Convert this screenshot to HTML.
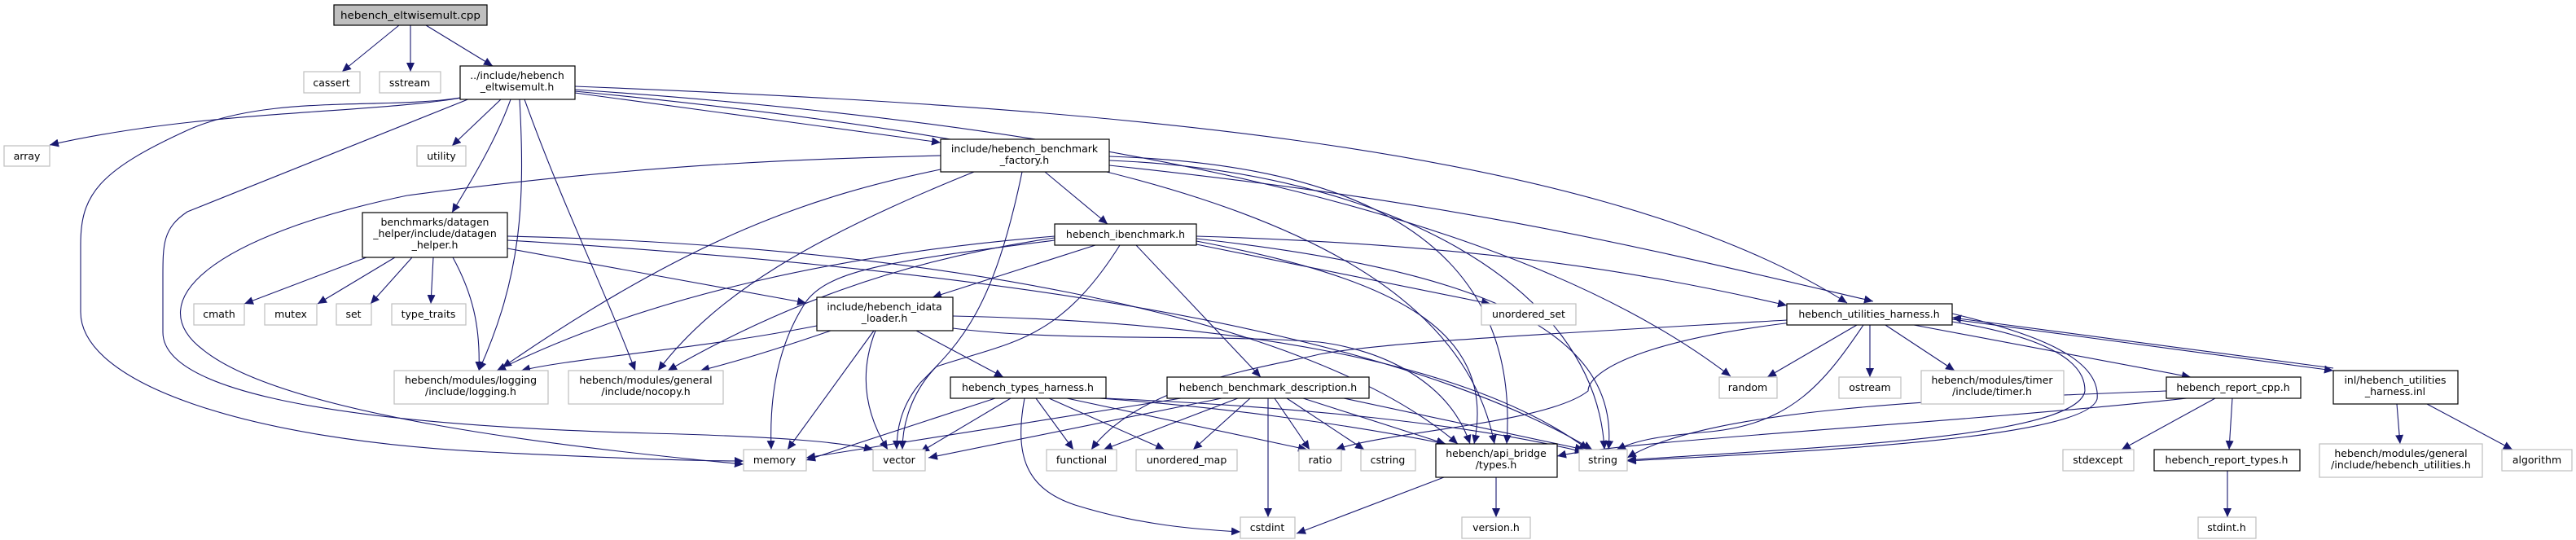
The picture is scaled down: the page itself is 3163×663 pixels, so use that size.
<!DOCTYPE html>
<html><head><meta charset="utf-8"><style>
html,body{margin:0;padding:0;background:#fff;}
svg{display:block;}
text{font-family:"DejaVu Sans","Liberation Sans",sans-serif;font-size:12.5px;fill:#000;text-anchor:middle;}
.e{fill:none;stroke:#191970;stroke-width:1.1;marker-end:url(#a);}
.p{fill:#fff;stroke:#000;stroke-width:1.2;}
.s{fill:#fff;stroke:#bfbfbf;stroke-width:1.2;}
</style></head><body>
<svg width="3163" height="663" viewBox="0 0 3163 663" xmlns="http://www.w3.org/2000/svg">
<defs><marker id="a" markerUnits="userSpaceOnUse" markerWidth="12" markerHeight="10" refX="11" refY="5" orient="auto"><path d="M0,0 L11,5 L0,10 z" fill="#191970"/></marker></defs>

<!-- edges -->
<path class="e" d="M490,31 L420,88"/>
<path class="e" d="M504,31 L504,88"/>
<path class="e" d="M523,31 L605,81"/>
<path class="e" d="M567,120 C450,140 250,135 61,178"/>
<path class="e" d="M615,122 L555,179"/>
<path class="e" d="M627,122 C610,170 580,220 555,261"/>
<path class="e" d="M638,122 C645,250 640,340 588,455"/>
<path class="e" d="M644,122 C690,250 740,350 780,455"/>
<path class="e" d="M565,120 C470,135 330,115 230,160 C120,210 99,240 99,300 L99,383 C99,470 300,540 600,555 C800,565 880,566 913,566"/>
<path class="e" d="M577,121 C480,160 357,210 230,260 C200,280 200,300 200,340 L200,408 C200,470 357,520 800,532 C950,536 1030,542 1072,552"/>
<path class="e" d="M706,114 L1155,175"/>
<path class="e" d="M706,106 C1300,130 1950,170 2268,372"/>
<path class="e" d="M706,110 C1300,150 1850,250 2125,462"/>
<path class="e" d="M706,112 C1300,170 1780,260 1835,545"/>
<!-- factory -->
<path class="e" d="M1283,211 L1360,275"/>
<path class="e" d="M1155,191 C1000,195 800,200 500,240 C260,290 170,370 250,430 C350,510 700,550 913,570"/>
<path class="e" d="M1155,208 C1000,240 850,290 617,451"/>
<path class="e" d="M1196,211 C1000,290 880,360 808,455"/>
<path class="e" d="M1255,211 C1220,380 1180,420 1130,470 C1105,500 1101,530 1101,552"/>
<path class="e" d="M1362,192 C1600,200 1870,260 1850,545"/>
<path class="e" d="M1362,197 C1700,210 1960,350 1970,552"/>
<path class="e" d="M1362,203 C1800,250 2000,300 2300,370"/>
<!-- ibenchmark -->
<path class="e" d="M1345,301 L1145,365"/>
<path class="e" d="M1395,301 L1548,463"/>
<path class="e" d="M1375,301 C1300,420 1240,420 1150,450 C1120,480 1108,520 1108,552"/>
<path class="e" d="M1295,295 C1100,320 1020,330 990,370 C950,430 945,500 947,552"/>
<path class="e" d="M1295,290 C1050,310 800,360 610,455"/>
<path class="e" d="M1295,292 C1100,320 950,380 820,455"/>
<path class="e" d="M1469,300 L1830,373"/>
<path class="e" d="M1469,290 C1800,300 2000,330 2194,375"/>
<path class="e" d="M1469,296 C1700,340 1840,400 1810,545"/>
<path class="e" d="M1469,293 C1800,330 1990,400 1975,552"/>
<!-- datagen -->
<path class="e" d="M450,316 L300,373"/>
<path class="e" d="M485,316 L390,373"/>
<path class="e" d="M506,316 L455,373"/>
<path class="e" d="M532,316 L529,373"/>
<path class="e" d="M556,316 C580,360 590,400 588,455"/>
<path class="e" d="M623,305 L990,372"/>
<path class="e" d="M623,290 C1100,300 1600,380 1790,545"/>
<path class="e" d="M623,295 C1200,330 1700,400 1955,552"/>
<!-- idata loader -->
<path class="e" d="M1073,406 L967,552"/>
<path class="e" d="M1075,406 C1050,470 1070,520 1090,552"/>
<path class="e" d="M1125,406 L1232,463"/>
<path class="e" d="M1003,400 C850,430 700,440 640,455"/>
<path class="e" d="M1020,406 C950,430 900,445 860,455"/>
<path class="e" d="M1170,403 C1300,420 1500,410 1620,420 C1700,430 1780,470 1805,545"/>
<path class="e" d="M1170,388 C1500,395 1800,440 1950,552"/>
<!-- types harness -->
<path class="e" d="M1222,489 L990,565"/>
<path class="e" d="M1241,489 L1130,555"/>
<path class="e" d="M1272,489 L1318,552"/>
<path class="e" d="M1288,489 L1430,552"/>
<path class="e" d="M1258,489 C1245,560 1260,600 1320,620 C1400,645 1470,650 1523,653"/>
<path class="e" d="M1310,489 L1605,552"/>
<path class="e" d="M1350,489 C1500,500 1650,520 1775,545"/>
<path class="e" d="M1358,489 C1600,500 1800,520 1945,555"/>
<!-- benchmark description -->
<path class="e" d="M1450,489 L990,562"/>
<path class="e" d="M1500,489 L1140,562"/>
<path class="e" d="M1520,489 L1355,552"/>
<path class="e" d="M1535,489 L1465,552"/>
<path class="e" d="M1557,489 L1557,635"/>
<path class="e" d="M1565,489 L1608,552"/>
<path class="e" d="M1580,489 L1675,552"/>
<path class="e" d="M1600,489 L1775,545"/>
<path class="e" d="M1650,489 L1945,552"/>
<!-- api types -->
<path class="e" d="M1773,586 L1592,655"/>
<path class="e" d="M1837,586 L1837,635"/>
<!-- utilities harness -->
<path class="e" d="M2280,399 L2170,463"/>
<path class="e" d="M2296,399 L2296,463"/>
<path class="e" d="M2315,399 L2400,455"/>
<path class="e" d="M2288,399 C2240,470 2200,520 2100,530 C2040,535 2010,540 1985,552"/>
<path class="e" d="M2194,393 C1900,410 1700,420 1620,435 C1560,450 1400,470 1340,552"/>
<path class="e" d="M2350,399 L2690,463"/>
<path class="e" d="M2397,392 L2865,455"/>
<path class="e" d="M2200,396 C2000,420 1950,460 1950,480 C1900,520 1700,530 1640,552"/>
<!-- inl -->
<path class="e" d="M2865,452 L2397,390"/>
<path class="e" d="M2943,496 L2947,545"/>
<path class="e" d="M2980,496 L3085,552"/>
<path class="e" d="M2397,395 C2550,420 2560,460 2560,480 C2550,540 2200,550 1998,565"/>
<path class="e" d="M2397,385 C2500,410 2580,440 2575,490 C2560,540 2200,555 1998,566"/>
<!-- report cpp -->
<path class="e" d="M2720,489 L2605,552"/>
<path class="e" d="M2741,489 L2737,552"/>
<path class="e" d="M2660,480 C2400,490 2100,500 1998,562"/>
<path class="e" d="M2685,489 C2400,520 2000,540 1912,560"/>
<path class="e" d="M2735,578 L2735,635"/>

<!-- nodes -->
<rect x="410" y="6" width="188" height="25" fill="#bfbfbf" stroke="#000" stroke-width="1.2"/>
<text x="504" y="23" textLength="172" lengthAdjust="spacingAndGlyphs">hebench_eltwisemult.cpp</text>

<rect class="s" x="373" y="88" width="69" height="26"/><text x="407" y="106">cassert</text>
<rect class="s" x="466" y="88" width="75" height="26"/><text x="503" y="106">sstream</text>

<rect class="p" x="565" y="81" width="141" height="41"/>
<text x="635" y="97">../include/hebench</text><text x="635" y="111">_eltwisemult.h</text>

<rect class="s" x="5" y="179" width="56" height="25"/><text x="33" y="196">array</text>
<rect class="s" x="512" y="179" width="60" height="25"/><text x="542" y="196">utility</text>

<rect class="p" x="445" y="261" width="178" height="55"/>
<text x="534" y="277">benchmarks/datagen</text><text x="534" y="291">_helper/include/datagen</text><text x="534" y="305">_helper.h</text>

<rect class="s" x="238" y="373" width="62" height="26"/><text x="269" y="390">cmath</text>
<rect class="s" x="325" y="373" width="64" height="26"/><text x="357" y="390">mutex</text>
<rect class="s" x="413" y="373" width="43" height="26"/><text x="434" y="390">set</text>
<rect class="s" x="481" y="373" width="91" height="26"/><text x="526" y="390">type_traits</text>

<rect class="s" x="484" y="455" width="189" height="41"/>
<text x="578" y="471">hebench/modules/logging</text><text x="578" y="485">/include/logging.h</text>
<rect class="s" x="698" y="455" width="190" height="41"/>
<text x="793" y="471">hebench/modules/general</text><text x="793" y="485">/include/nocopy.h</text>

<rect class="p" x="1155" y="171" width="207" height="40"/>
<text x="1258" y="187">include/hebench_benchmark</text><text x="1258" y="201">_factory.h</text>

<rect class="p" x="1295" y="275" width="174" height="26"/><text x="1382" y="292">hebench_ibenchmark.h</text>

<rect class="p" x="1003" y="365" width="167" height="41"/>
<text x="1086" y="381">include/hebench_idata</text><text x="1086" y="395">_loader.h</text>

<rect class="p" x="1167" y="463" width="191" height="26"/><text x="1262" y="480">hebench_types_harness.h</text>
<rect class="p" x="1433" y="463" width="248" height="26"/><text x="1557" y="480">hebench_benchmark_description.h</text>

<rect class="s" x="913" y="552" width="77" height="26"/><text x="951" y="569">memory</text>
<rect class="s" x="1072" y="552" width="64" height="26"/><text x="1104" y="569">vector</text>
<rect class="s" x="1285" y="552" width="86" height="26"/><text x="1328" y="569">functional</text>
<rect class="s" x="1395" y="552" width="124" height="26"/><text x="1457" y="569">unordered_map</text>
<rect class="s" x="1595" y="552" width="52" height="26"/><text x="1621" y="569">ratio</text>
<rect class="s" x="1671" y="552" width="67" height="26"/><text x="1704" y="569">cstring</text>
<rect class="s" x="1523" y="635" width="67" height="26"/><text x="1556" y="652">cstdint</text>

<rect class="p" x="1763" y="545" width="149" height="41"/>
<text x="1837" y="561">hebench/api_bridge</text><text x="1837" y="575">/types.h</text>
<rect class="s" x="1939" y="552" width="59" height="26"/><text x="1968" y="569">string</text>
<rect class="s" x="1795" y="635" width="84" height="26"/><text x="1837" y="652">version.h</text>

<rect class="s" x="1819" y="373" width="116" height="26"/><text x="1877" y="390">unordered_set</text>
<rect class="p" x="2194" y="373" width="203" height="26"/><text x="2295" y="390">hebench_utilities_harness.h</text>

<rect class="s" x="2111" y="463" width="71" height="26"/><text x="2146" y="480">random</text>
<rect class="s" x="2258" y="463" width="76" height="26"/><text x="2296" y="480">ostream</text>
<rect class="s" x="2359" y="455" width="175" height="41"/>
<text x="2446" y="471">hebench/modules/timer</text><text x="2446" y="485">/include/timer.h</text>

<rect class="p" x="2660" y="463" width="165" height="26"/><text x="2742" y="480">hebench_report_cpp.h</text>
<rect class="p" x="2865" y="455" width="153" height="41"/>
<text x="2941" y="471">inl/hebench_utilities</text><text x="2941" y="485">_harness.inl</text>

<rect class="s" x="2533" y="552" width="87" height="26"/><text x="2576" y="569">stdexcept</text>
<rect class="p" x="2645" y="552" width="179" height="26"/><text x="2734" y="569">hebench_report_types.h</text>
<rect class="s" x="2848" y="545" width="200" height="41"/>
<text x="2948" y="561">hebench/modules/general</text><text x="2948" y="575">/include/hebench_utilities.h</text>
<rect class="s" x="3072" y="552" width="86" height="26"/><text x="3115" y="569">algorithm</text>
<rect class="s" x="2699" y="635" width="71" height="26"/><text x="2734" y="652">stdint.h</text>
</svg>
</body></html>
